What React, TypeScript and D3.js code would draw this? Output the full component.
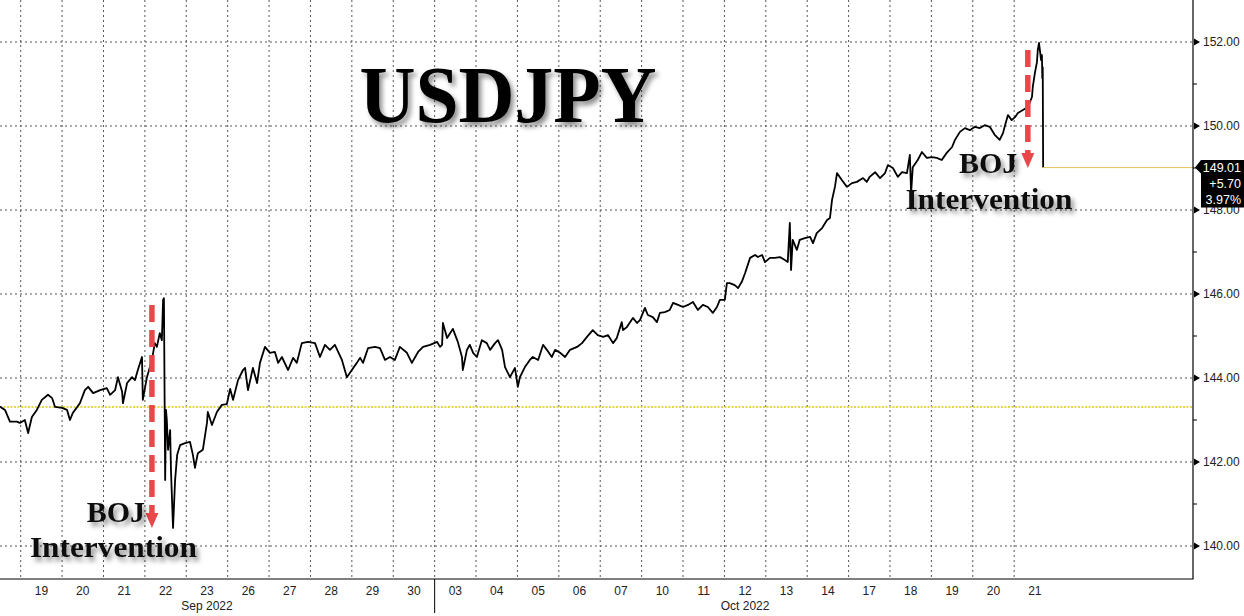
import React from 'react';
import * as d3 from 'd3';

// ---- DATA ----
// [trading-day index (0 = start of Mon Sep 19), USDJPY]
const week1: [number, number][] = [
  [-0.50,143.32],[-0.38,143.24],[-0.26,142.96],[-0.09,142.96],[-0.02,142.93],[0.10,143.00],[0.18,142.69],[0.27,143.07],[0.39,143.24],[0.51,143.48],
  [0.66,143.60],[0.76,143.52],[0.83,143.31],[1.00,143.29],[1.12,143.24],[1.19,143.00],[1.26,143.17],[1.43,143.40],[1.55,143.71],[1.63,143.79],
  [1.75,143.64],[1.92,143.71],[2.08,143.76],[2.16,143.60],[2.28,143.71],[2.35,144.02],[2.45,143.67],[2.47,143.40],[2.57,143.88],[2.69,144.02],
  [2.76,143.95],[2.83,144.19],[2.93,144.50],[2.95,143.48],[3.05,144.02],[3.17,144.43],[3.24,144.83],[3.29,144.74],[3.36,145.07],[3.41,144.90],
  [3.44,145.86],[3.46,145.90],[3.49,141.57],[3.51,143.24],[3.53,143.00],[3.56,142.29],[3.61,142.76],[3.63,141.81],[3.65,141.26],[3.68,140.43],
  [3.73,141.57],[3.78,142.17],[3.85,142.40],[3.97,142.45],[4.09,142.48],[4.16,142.17],[4.21,141.86],[4.28,142.21],[4.40,142.29],[4.50,142.93],
  [4.52,143.19],[4.62,142.88],[4.74,143.19],[4.86,143.36],[4.98,143.38],
];
const week2: [number, number][] = [
  [5.06,143.74],[5.13,143.48],[5.25,143.95],[5.37,144.19],[5.42,144.24],[5.49,143.71],[5.61,144.24],[5.71,143.88],[5.78,144.36],[5.90,144.74],
  [6.02,144.60],[6.14,144.62],[6.22,144.36],[6.31,144.50],[6.46,144.19],[6.58,144.48],[6.67,144.36],[6.79,144.83],[6.94,144.86],[7.11,144.83],
  [7.23,144.50],[7.35,144.79],[7.47,144.67],[7.59,144.79],[7.76,144.43],[7.88,144.02],[8.00,144.19],[8.12,144.36],[8.20,144.48],[8.27,144.36],
  [8.39,144.71],[8.56,144.74],[8.68,144.71],[8.80,144.43],[8.92,144.50],[9.04,144.43],[9.16,144.74],[9.33,144.60],[9.45,144.36],[9.60,144.62],
  [9.72,144.74],[9.89,144.79],
];
const week3: [number, number][] = [
  [10.06,144.86],[10.13,144.74],[10.18,144.79],[10.20,145.31],[10.30,144.95],[10.44,145.17],[10.56,144.86],[10.66,144.50],[10.68,144.19],[10.78,144.67],
  [10.85,144.79],[10.93,144.60],[11.02,144.50],[11.14,144.90],[11.26,144.83],[11.34,144.67],[11.46,144.83],[11.53,144.90],[11.63,144.67],[11.70,144.26],
  [11.82,144.02],[11.94,144.24],[12.01,143.79],[12.06,144.02],[12.18,144.26],[12.30,144.43],[12.37,144.50],[12.50,144.43],[12.62,144.79],[12.71,144.67],
  [12.83,144.50],[12.91,144.67],[13.03,144.60],[13.15,144.50],[13.27,144.67],[13.44,144.74],[13.56,144.83],[13.68,144.98],[13.82,145.14],[13.94,145.02],
  [14.07,144.98],[14.19,145.02],[14.31,144.83],[14.40,144.95],[14.52,145.33],[14.55,145.14],[14.64,145.21],[14.79,145.43],[14.89,145.31],[14.96,145.38],
];
const week4: [number, number][] = [
  [15.08,145.67],[15.15,145.50],[15.27,145.45],[15.37,145.33],[15.44,145.55],[15.56,145.57],[15.68,145.62],[15.76,145.79],[15.88,145.74],[16.00,145.69],
  [16.12,145.74],[16.24,145.81],[16.36,145.62],[16.48,145.74],[16.60,145.69],[16.72,145.55],[16.82,145.69],[16.89,145.86],[17.01,145.86],[17.06,146.26],
  [17.13,146.26],[17.25,146.21],[17.33,146.14],[17.42,146.29],[17.50,146.50],[17.62,146.86],[17.74,146.93],[17.81,146.88],[17.91,146.93],[17.98,146.76],
  [18.10,146.86],[18.22,146.86],[18.34,146.88],[18.46,146.81],[18.53,146.76],[18.58,147.69],[18.61,146.57],[18.65,147.29],[18.75,147.05],[18.82,147.29],
  [18.94,147.33],[19.07,147.36],[19.14,147.21],[19.23,147.45],[19.36,147.57],[19.48,147.76],[19.55,147.81],[19.60,148.24],[19.67,148.55],[19.72,148.88],
  [19.84,148.71],[19.96,148.55],
];
const week5: [number, number][] = [
  [20.08,148.64],[20.20,148.67],[20.35,148.76],[20.44,148.67],[20.51,148.79],[20.64,148.90],[20.76,148.76],[20.88,148.88],[20.95,149.07],[21.07,149.00],
  [21.19,148.79],[21.29,148.90],[21.41,148.88],[21.48,149.31],[21.51,148.40],[21.55,149.02],[21.67,149.19],[21.77,149.38],[21.89,149.24],[22.01,149.26],
  [22.13,149.24],[22.25,149.19],[22.37,149.36],[22.50,149.50],[22.57,149.67],[22.69,149.86],[22.81,149.95],[22.93,149.90],[23.05,149.98],[23.17,149.95],
  [23.29,150.02],[23.41,149.98],[23.53,149.79],[23.65,149.67],[23.73,149.83],[23.78,150.02],[23.85,150.26],[23.94,150.14],[24.02,150.21],[24.09,150.31],
  [24.21,150.38],[24.33,150.45],[24.43,150.69],[24.45,150.93],[24.50,151.26],[24.55,151.52],[24.57,151.81],[24.60,151.98],[24.65,151.57],[24.67,151.69],
  [24.68,151.14],[24.69,151.40],[24.70,149.01],
];

const dayLabels = ['19','20','21','22','23','26','27','28','29','30','03','04','05','06','07','10','11','12','13','14','17','18','19','20','21'];
const monthLabels = ['Sep 2022', 'Oct 2022'];
const monthLabelDay = [4, 17];
const monthBreaks = [10];
const yMajor = [140, 142, 144, 146, 148, 150, 152];
const yMinor = [141, 143, 145, 147, 149, 151];
const lastPrice = 149.01;
const prevClose = 143.31;
const changeText = ['149.01', '+5.70', '3.97%'];
const titleText = 'USDJPY';

// annotations in data coords: arrow [day, from, to], text anchor [day, price]
const annotations = [
  { arrowDay: 3.17, from: 145.74, to: 140.43, boj: [2.30, 140.57], int: [2.24, 139.74] },
  { arrowDay: 24.33, from: 151.81, to: 149.0, boj: [23.37, 148.88], int: [23.39, 148.02] },
];

// ---- LAYOUT ----
const W = 1244, H = 616;
const plotRight = 1193, plotBottom = 579;

export default function App() {
  const x = d3.scaleLinear().domain([-0.5, 28.32]).range([0, plotRight]);
  const y = d3.scaleLinear().domain([140, 152]).range([546, 42]);
  const series = [...week1, ...week2, ...week3, ...week4, ...week5];
  const line = d3.line<[number, number]>().x(d => x(d[0])).y(d => y(d[1]));
  const last = series[series.length - 1];
  const axisFont = '"Liberation Sans", Arial, sans-serif';
  const serif = '"Liberation Serif", "Times New Roman", serif';
  const red = '#e9464a';
  const ly = y(lastPrice);

  return (
    <div style={{ position: 'absolute', left: 0, top: 0 }}>
      <svg width={W} height={H} style={{ display: 'block', background: '#fff' }}>
        <defs>
          <filter id="tshadow" x="-10%" y="-20%" width="130%" height="160%">
            <feDropShadow dx="3" dy="4" stdDeviation="2.5" floodColor="#000" floodOpacity="0.45" />
          </filter>
          <filter id="ashadow" x="-50%" y="-10%" width="200%" height="130%">
            <feGaussianBlur stdDeviation="0.6" />
          </filter>
        </defs>

        {/* grid */}
        {yMajor.map(v => (
          <line key={'gy' + v} x1={0} x2={plotRight} y1={y(v)} y2={y(v)} stroke="#555" strokeWidth={1} strokeDasharray="2,3" />
        ))}
        {dayLabels.map((_, i) => (
          <line key={'gx' + i} x1={x(i)} x2={x(i)} y1={0} y2={plotBottom} stroke="#555" strokeWidth={1} strokeDasharray="2,3" />
        ))}

        {/* previous close */}
        <line x1={0} x2={plotRight} y1={y(prevClose)} y2={y(prevClose)} stroke="#e3d64a" strokeWidth={2} strokeDasharray="2,1.5" />

        {/* title */}
        <text x={508} y={122} textAnchor="middle" fontFamily={serif} fontWeight="bold" fontSize={80}
          textLength={297} lengthAdjust="spacingAndGlyphs" fill="#000" filter="url(#tshadow)">{titleText}</text>

        {/* price line */}
        <path d={line(series) || ''} fill="none" stroke="#000" strokeWidth={1.8} strokeLinejoin="round" />
        <line x1={x(last[0])} x2={plotRight} y1={ly} y2={ly} stroke="#e2c25a" strokeWidth={1} />

        {/* annotations */}
        {annotations.map((a, i) => {
          const ax = x(a.arrowDay);
          const y0 = y(a.from), y1 = y(a.to);
          const headH = 15;
          return (
            <g key={'an' + i}>
              <g filter="url(#ashadow)">
                <line x1={ax} x2={ax} y1={y0} y2={y1 - headH + 2} stroke={red} strokeWidth={5.5} strokeDasharray="17,8" />
                <polygon points={`${ax - 6.5},${y1 - headH} ${ax + 6.5},${y1 - headH} ${ax},${y1}`} fill={red} />
              </g>
              <text x={x(a.boj[0])} y={y(a.boj[1])} textAnchor="middle" fontFamily={serif} fontWeight="bold" fontSize={30}
                fill="#111" filter="url(#tshadow)">BOJ</text>
              <text x={x(a.int[0])} y={y(a.int[1])} textAnchor="middle" fontFamily={serif} fontWeight="bold" fontSize={30}
                textLength={167} lengthAdjust="spacingAndGlyphs" fill="#111" filter="url(#tshadow)">Intervention</text>
            </g>
          );
        })}

        {/* axes */}
        <line x1={0} x2={plotRight + 0.5} y1={plotBottom} y2={plotBottom} stroke="#000" strokeWidth={1.2} />
        <line x1={plotRight} x2={plotRight} y1={0} y2={plotBottom} stroke="#000" strokeWidth={1.2} />

        {yMinor.map(v => (
          <line key={'mt' + v} x1={plotRight} x2={plotRight + 4} y1={y(v)} y2={y(v)} stroke="#000" strokeWidth={1} />
        ))}
        {yMajor.map(v => (
          <g key={'yt' + v}>
            <polygon points={`${plotRight + 1},${y(v) - 3.5} ${plotRight + 7},${y(v)} ${plotRight + 1},${y(v) + 3.5}`} fill="#000" />
            <text x={plotRight + 10} y={y(v)} dy="0.35em" fontFamily={axisFont} fontSize={12} fill="#222">{v.toFixed(2)}</text>
          </g>
        ))}

        {/* last price box */}
        <polygon points={`${plotRight + 2},${ly} ${plotRight + 8},${ly - 7.5} ${W},${ly - 7.5} ${W},${ly + 40} ${plotRight + 8},${ly + 40} ${plotRight + 8},${ly + 6}`} fill="#000" />
        {changeText.map((t, i) => (
          <text key={'ct' + i} x={W - 3} y={ly + i * 16} dy="0.36em" textAnchor="end" fontFamily={axisFont} fontSize={12.5} fill="#fff">{t}</text>
        ))}

        {/* x labels */}
        {dayLabels.map((d, i) => (
          <text key={'dl' + i} x={x(i + 0.5)} y={591} dy="0.35em" textAnchor="middle" fontFamily={axisFont} fontSize={12} fill="#222">{d}</text>
        ))}
        {monthLabels.map((m, i) => (
          <text key={'ml' + i} x={x(monthLabelDay[i] + 0.5)} y={606} dy="0.35em" textAnchor="middle" fontFamily={axisFont} fontSize={12} fill="#222">{m}</text>
        ))}
        {monthBreaks.map((b, i) => (
          <line key={'mb' + i} x1={x(b)} x2={x(b)} y1={plotBottom} y2={H - 3} stroke="#000" strokeWidth={1} />
        ))}
      </svg>
    </div>
  );
}
